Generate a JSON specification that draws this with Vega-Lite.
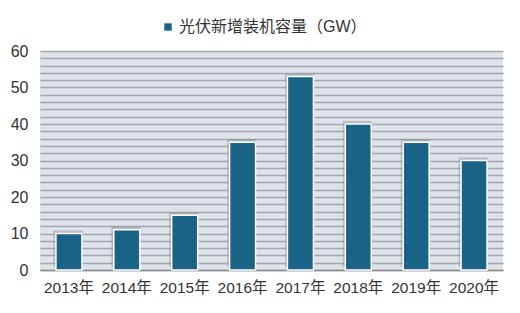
{
  "$schema": "https://vega.github.io/schema/vega-lite/v6.json",
  "autosize": {"type": "none"},
  "width": 463,
  "height": 219,
  "padding": {"left": 40, "top": 51, "right": 17, "bottom": 43},
  "background": "#ffffff",
  "config": {
    "font": "Liberation Sans, Noto Sans CJK SC",
    "view": {"fill": "#dde3e9", "stroke": null}
  },
  "data": {
    "values": [
      {"year": "2013年", "value": 10, "series": "光伏新增装机容量（GW）"},
      {"year": "2014年", "value": 11, "series": "光伏新增装机容量（GW）"},
      {"year": "2015年", "value": 15, "series": "光伏新增装机容量（GW）"},
      {"year": "2016年", "value": 35, "series": "光伏新增装机容量（GW）"},
      {"year": "2017年", "value": 53, "series": "光伏新增装机容量（GW）"},
      {"year": "2018年", "value": 40, "series": "光伏新增装机容量（GW）"},
      {"year": "2019年", "value": 35, "series": "光伏新增装机容量（GW）"},
      {"year": "2020年", "value": 30, "series": "光伏新增装机容量（GW）"}
    ]
  },
  "encoding": {
    "x": {
      "field": "year", "type": "nominal", "sort": null,
      "scale": {"paddingInner": 0.57, "paddingOuter": 0.285},
      "axis": {
        "title": null, "labelAngle": 0, "labelFontSize": 15.5, "labelColor": "#333333",
        "labelPadding": 10, "ticks": false, "domainColor": "#8c8c8c", "domainWidth": 1.5,
        "labelFont": "Liberation Sans, Noto Sans CJK SC", "labelLimit": 0
      }
    },
    "y": {
      "field": "value", "type": "quantitative",
      "scale": {"domain": [0, 60], "nice": false},
      "axis": {
        "title": null,
        "values": [0,2,4,6,8,10,12,14,16,18,20,22,24,26,28,30,32,34,36,38,40,42,44,46,48,50,52,54,56,58,60],
        "labelExpr": "datum.value % 10 === 0 ? datum.label : ''",
        "labelFontSize": 16, "labelColor": "#333333", "labelPadding": 12,
        "labelFont": "Liberation Sans",
        "ticks": false, "domain": false,
        "gridColor": "#a3a7ab", "gridWidth": 1.3
      }
    }
  },
  "layer": [
    {
      "mark": {"type": "bar", "color": "#6f767c", "opacity": 0.35, "width": 29, "yOffset": -3, "xOffset": -1},
      "encoding": {}
    },
    {
      "mark": {"type": "bar", "width": 26, "stroke": "#ffffff", "strokeWidth": 1.5},
      "encoding": {
        "color": {
          "field": "series", "type": "nominal",
          "scale": {"range": ["#1a6387"]},
          "legend": {
            "title": null, "orient": "none", "legendX": 115, "legendY": -37,
            "symbolType": "square", "symbolSize": 55, "symbolStrokeWidth": 0,
            "labelFontSize": 16, "labelColor": "#333333", "labelFont": "Liberation Sans, Noto Sans CJK SC",
            "labelLimit": 0, "labelOffset": 3,
            "fillColor": "#ffffff", "padding": 5
          }
        }
      }
    }
  ]
}
